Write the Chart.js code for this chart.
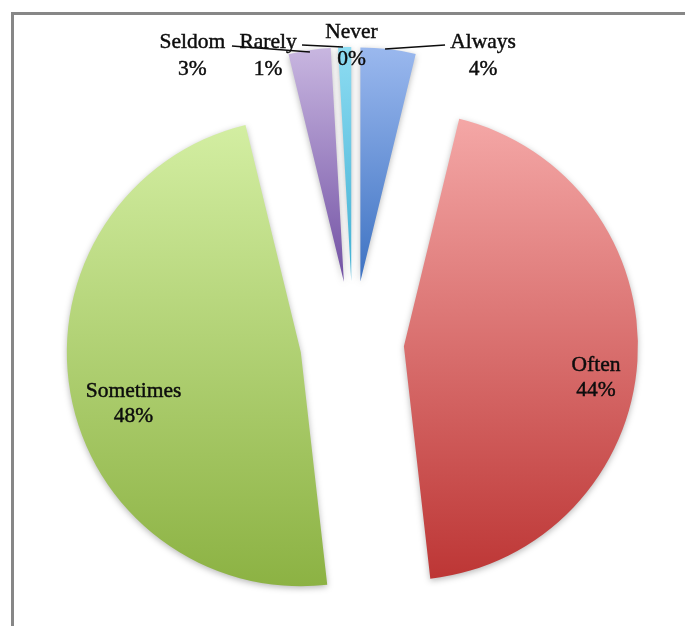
<!DOCTYPE html>
<html><head><meta charset="utf-8">
<script src="https://cdn.jsdelivr.net/npm/chart.js@4.4.1/dist/chart.umd.min.js"></script>
<style>html,body{margin:0;padding:0;background:#fff;}canvas{display:block;}</style>
</head><body>
<canvas id="c" width="685" height="626"></canvas>
<script>
// ---- data ----
const categories = ['Always', 'Often', 'Sometimes', 'Seldom', 'Rarely', 'Never'];
const percentages = [3.8, 44.4, 48.0, 2.9, 0.9, 0];

// ---- styles ----
const gradientTop    = ['#9ab8ee', '#f4a7a6', '#d3eea2', '#c8b6e0', '#8edcf2', '#fbc08a'];
const gradientBottom = ['#3d72c2', '#bd3635', '#8cb243', '#7150a3', '#3fb0d3', '#e88a2e'];
const explodeDist = [62, 51, 53, 62, 62, 62];
const RADIUS = 234;
const FONT = '21.5px "Liberation Serif", "Times New Roman", serif';
// label placement relative to the outer-middle point of each slice
const labelLayout = [
  { dx: 94.8,  dy: -1,   gap: 27, leader: [[-3.2, 0], [56.8, -4]] },
  { dx: -41.4, dy: 10.1, gap: 25, leader: null },
  { dx: 63.1,  dy: 3.7,  gap: 25, leader: null },
  { dx: -117,  dy: -2,   gap: 27, leader: [[-77.5, -4.3], [0.5, 1.7]] },
  { dx: -76.6, dy: 0.9,  gap: 27, leader: [[-42.6, -2.1], [-1.6, -0.1]] },
  { dx: -1.5,  dy: -9,   gap: 27, leader: null }
];

const framePlugin = {
  id: 'frame',
  beforeDraw(chart) {
    const ctx = chart.ctx;
    ctx.save();
    ctx.fillStyle = '#878787';
    ctx.fillRect(11, 12, 674, 3);
    ctx.fillRect(11, 12, 3, 614);
    ctx.restore();
  }
};

const explodePlugin = {
  id: 'explode',
  beforeDatasetsDraw(chart) {
    const ctx = chart.ctx;
    const meta = chart.getDatasetMeta(0);
    chart.$geom = [];
    meta.data.forEach((arc, i) => {
      const p = arc.getProps(['x', 'y', 'startAngle', 'endAngle', 'outerRadius'], true);
      const mid = (p.startAngle + p.endAngle) / 2;
      const vx = p.x + explodeDist[i] * Math.cos(mid);
      const vy = p.y + explodeDist[i] * Math.sin(mid);
      const ys = [vy, vy + p.outerRadius * Math.sin(p.startAngle), vy + p.outerRadius * Math.sin(p.endAngle)];
      for (let k = -4; k <= 4; k++) {
        const a = Math.PI / 2 + k * Math.PI;
        if (a > p.startAngle && a < p.endAngle) ys.push(vy + p.outerRadius * Math.sin(a));
      }
      const top = Math.min(...ys), bot = Math.max(...ys);
      const g = ctx.createLinearGradient(0, top, 0, bot + 0.01);
      g.addColorStop(0, gradientTop[i]);
      g.addColorStop(1, gradientBottom[i]);
      chart.$geom[i] = { vx, vy, mid, r: p.outerRadius, ox: p.x, oy: p.y };
      arc.x = vx; arc.y = vy;
      arc.options = Object.assign({}, arc.options, { backgroundColor: g });
    });
    ctx.save();
    ctx.shadowColor = 'rgba(0,0,0,0.28)';
    ctx.shadowBlur = 6;
    ctx.shadowOffsetY = 2;
  },
  afterDatasetsDraw(chart) {
    const ctx = chart.ctx;
    ctx.restore();
    const meta = chart.getDatasetMeta(0);
    meta.data.forEach((arc, i) => { const g = chart.$geom[i]; arc.x = g.ox; arc.y = g.oy; });
    ctx.save();
    ctx.font = FONT;
    ctx.fillStyle = '#0d0d0d';
    ctx.strokeStyle = '#0d0d0d';
    ctx.textAlign = 'center';
    ctx.textBaseline = 'alphabetic';
    categories.forEach((name, i) => {
      const g = chart.$geom[i];
      const ax = g.vx + g.r * Math.cos(g.mid);
      const ay = g.vy + g.r * Math.sin(g.mid);
      const L = labelLayout[i];
      if (L.leader) {
        ctx.lineWidth = 1.5;
        ctx.beginPath();
        ctx.moveTo(ax + L.leader[0][0], ay + L.leader[0][1]);
        ctx.lineTo(ax + L.leader[1][0], ay + L.leader[1][1]);
        ctx.stroke();
      }
      const pct = Math.round(percentages[i]) + '%';
      ctx.lineWidth = 0.45;
      ctx.fillText(name, ax + L.dx, ay + L.dy);
      ctx.strokeText(name, ax + L.dx, ay + L.dy);
      ctx.fillText(pct, ax + L.dx, ay + L.dy + L.gap);
      ctx.strokeText(pct, ax + L.dx, ay + L.dy + L.gap);
    });
    ctx.restore();
  }
};

new Chart(document.getElementById('c'), {
  type: 'pie',
  data: {
    labels: categories,
    datasets: [{
      data: percentages,
      backgroundColor: gradientBottom,
      borderWidth: 0
    }]
  },
  options: {
    responsive: false,
    animation: false,
    events: [],
    radius: RADIUS,
    layout: { padding: { left: 21, right: 0, top: 60, bottom: 0 } },
    plugins: { legend: { display: false }, tooltip: { enabled: false } }
  },
  plugins: [framePlugin, explodePlugin]
});
</script>
</body></html>
